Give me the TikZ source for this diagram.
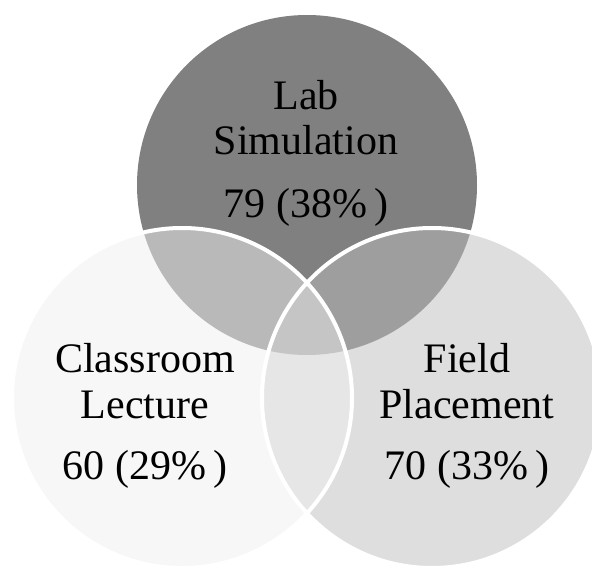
\documentclass[tikz,border=0pt]{standalone}
\usepackage{fontspec}
\setmainfont{Liberation Serif}
\begin{document}
\begin{tikzpicture}[x=1pt,y=-1pt,
  lbl/.style={anchor=base,inner sep=0pt,font=\fontsize{42}{45}\selectfont},
  rim/.style={draw=white,line width=4pt}]
\definecolor{cTop}{gray}{0.502}
\definecolor{cLeft}{gray}{0.969}
\definecolor{cRight}{gray}{0.871}
\definecolor{cTL}{gray}{0.725}
\definecolor{cTR}{gray}{0.62}
\definecolor{cLR}{gray}{0.902}
\definecolor{cAll}{gray}{0.773}
\useasboundingbox (0,0) rectangle (592,567);
\def\rad{170}
% circle centres
\coordinate (T) at (307,185);
\coordinate (L) at (182,398);
\coordinate (R) at (432,398);
% single regions
\fill[cTop] (T) circle (\rad);
\fill[cLeft] (L) circle (\rad);
\fill[cRight] (R) circle (\rad);
% pairwise overlaps
\begin{scope}
  \clip (T) circle (\rad);
  \fill[cTL] (L) circle (\rad);
  \fill[cTR] (R) circle (\rad);
\end{scope}
\begin{scope}
  \clip (L) circle (\rad);
  \fill[cLR] (R) circle (\rad);
  \clip (T) circle (\rad);
  \fill[cAll] (R) circle (\rad);
\end{scope}
% white rims
\draw[rim] (L) circle (\rad);
\draw[rim] (R) circle (\rad);
% labels
\node[lbl] (topA) at (306,110) {Lab};
\node[lbl] (topB) at (306,155) {Simulation};
\node[lbl] (topC) at (306,217) {79~(38\%\,)};
\node[lbl] (leftA) at (145,372) {Classroom};
\node[lbl] (leftB) at (145,418) {Lecture};
\node[lbl] (leftC) at (145,479) {60~(29\%\,)};
\node[lbl] (rightA) at (467,372) {Field};
\node[lbl] (rightB) at (467,418) {Placement};
\node[lbl] (rightC) at (467,479) {70~(33\%\,)};
\end{tikzpicture}
\end{document}
